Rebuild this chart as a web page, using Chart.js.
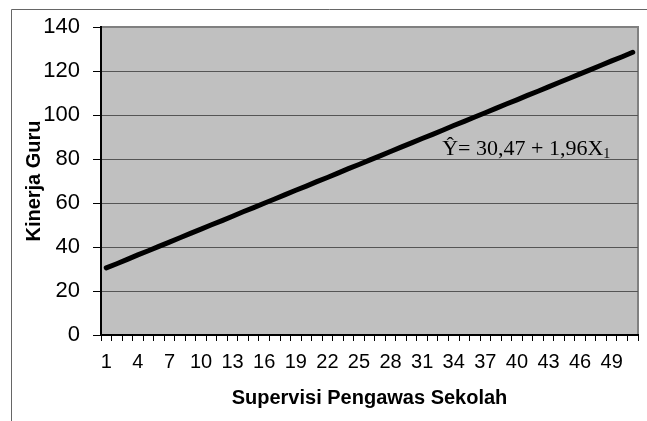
<!DOCTYPE html>
<html>
<head>
<meta charset="utf-8">
<script src="https://cdn.jsdelivr.net/npm/chart.js@4.4.1/dist/chart.umd.min.js"></script>
<style>
  html, body { margin: 0; padding: 0; background: #fff; }
  #wrap { position: relative; width: 647px; height: 421px; }
</style>
</head>
<body>
<div id="wrap"><canvas id="regChart" width="647" height="421"></canvas></div>
<script>
  // kategori sumbu X (1..51)
  const categories = ['1','2','3','4','5','6','7','8','9','10','11','12','13','14','15','16','17','18','19','20',
    '21','22','23','24','25','26','27','28','29','30','31','32','33','34','35','36','37','38','39','40',
    '41','42','43','44','45','46','47','48','49','50','51'];

  // nilai garis regresi
  const kinerjaGuru = [30.5, 32.4, 34.4, 36.4, 38.3, 40.3, 42.2, 44.2, 46.2, 48.1,
    50.1, 52.0, 54.0, 56.0, 57.9, 59.9, 61.8, 63.8, 65.8, 67.7,
    69.7, 71.6, 73.6, 75.6, 77.5, 79.5, 81.4, 83.4, 85.4, 87.3,
    89.3, 91.2, 93.2, 95.2, 97.1, 99.1, 101.0, 103.0, 105.0, 106.9,
    108.9, 110.8, 112.8, 114.8, 116.7, 118.7, 120.6, 122.6, 124.6, 126.5, 128.5];

  const yTicks = [0, 20, 40, 60, 80, 100, 120, 140];
  const equationText = 'Ŷ= 30,47 + 1,96X';
  const equationSub = '1';

  const sans = "'Liberation Sans', Arial, sans-serif";
  const serif = "'Liberation Serif', 'Times New Roman', serif";

  // latar abu-abu + bingkai luar + persamaan
  const decor = {
    id: 'decor',
    beforeDraw(chart) {
      const { ctx, chartArea: a } = chart;
      ctx.save();
      ctx.strokeStyle = '#666';
      ctx.lineWidth = 1;
      ctx.beginPath();
      ctx.moveTo(11.5, chart.height);
      ctx.lineTo(11.5, 9.5);
      ctx.lineTo(chart.width, 9.5);
      ctx.stroke();
      ctx.fillStyle = '#c0c0c0';
      ctx.fillRect(a.left, a.top, a.right - a.left, a.bottom - a.top);
      ctx.strokeStyle = '#808080';
      ctx.lineWidth = 2;
      ctx.beginPath();
      ctx.moveTo(a.left, a.top);
      ctx.lineTo(a.right, a.top);
      ctx.lineTo(a.right, a.bottom);
      ctx.stroke();
      ctx.restore();
    },
    afterDatasetsDraw(chart) {
      const { ctx, scales: { x, y } } = chart;
      const px = x.getPixelForValue(32) - 1;
      const py = y.getPixelForValue(82);
      ctx.save();
      ctx.fillStyle = '#000';
      ctx.textBaseline = 'alphabetic';
      ctx.font = '22px ' + serif;
      ctx.fillText(equationText, px, py);
      const w = ctx.measureText(equationText).width;
      ctx.font = '14px ' + serif;
      ctx.fillText(equationSub, px + w, py + 3);
      ctx.restore();
    }
  };

  new Chart(document.getElementById('regChart'), {
    type: 'line',
    data: {
      labels: categories,
      datasets: [{
        data: kinerjaGuru,
        borderColor: '#000',
        borderWidth: 5,
        borderCapStyle: 'round',
        pointRadius: 0,
        tension: 0,
        fill: false
      }]
    },
    options: {
      responsive: false,
      animation: false,
      layout: { padding: { top: 27, right: 9, left: 0, bottom: 0 } },
      plugins: { legend: { display: false }, tooltip: { enabled: false } },
      scales: {
        x: {
          type: 'category',
          offset: true,
          grid: { offset: true, drawOnChartArea: false, drawTicks: true, tickLength: 6, color: '#000' },
          border: { color: '#000', width: 2 },
          ticks: {
            autoSkip: false,
            maxRotation: 0,
            padding: 9,
            color: '#000',
            font: { family: sans, size: 20 },
            callback: (v, i) => (i % 3 === 0 ? categories[i] : '')
          },
          title: {
            display: true,
            text: 'Supervisi Pengawas Sekolah',
            color: '#000',
            font: { family: sans, size: 20, weight: 'bold' },
            padding: { top: 0, bottom: 11 }
          },
          afterFit(s) { s.height = 86; }
        },
        y: {
          min: 0,
          max: 140,
          afterBuildTicks(s) { s.ticks = yTicks.map(v => ({ value: v })); },
          grid: {
            color: ctx => (ctx.tick && ctx.tick.value === 140 ? '#808080' : '#555'),
            tickColor: '#000',
            tickLength: 8,
            lineWidth: 1
          },
          border: { color: '#000', width: 2 },
          ticks: {
            padding: 13,
            color: '#000',
            font: { family: sans, size: 22 }
          },
          title: {
            display: true,
            text: 'Kinerja Guru',
            color: '#000',
            font: { family: sans, size: 20, weight: 'bold' },
            padding: { top: 22, bottom: 0 }
          },
          afterFit(s) { s.width = 101; }
        }
      }
    },
    plugins: [decor]
  });
</script>
</body>
</html>
